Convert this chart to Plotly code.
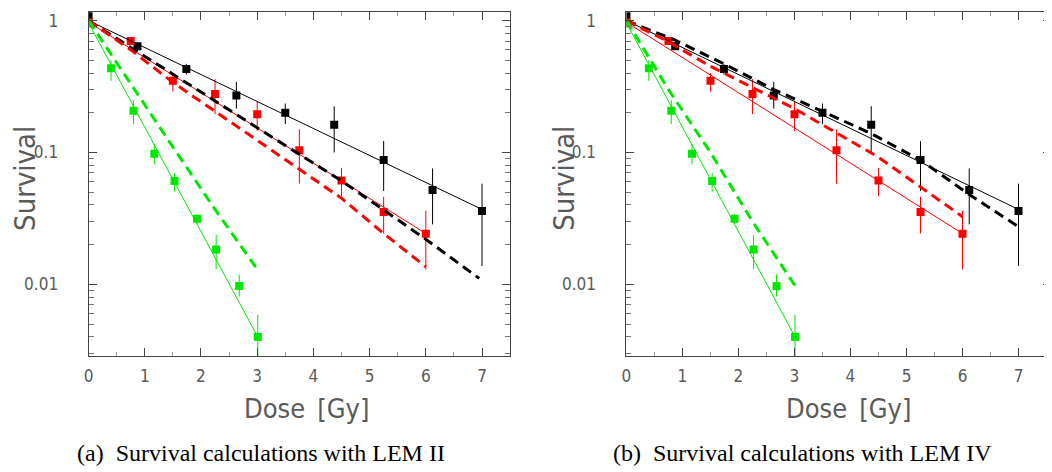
import plotly.graph_objects as go

# ---- measured cell survival (same data in both panels) ----
dose_black = [0, 0.87, 1.74, 2.63, 3.50, 4.37, 5.25, 6.12, 7.0]
surv_black = [1.08, 0.64, 0.43, 0.27, 0.20, 0.162, 0.0875, 0.052, 0.036]
black_hi = [1.08, 0.68, 0.47, 0.343, 0.235, 0.224, 0.122, 0.0757, 0.058]
black_lo = [1.08, 0.60, 0.39, 0.215, 0.164, 0.100, 0.051, 0.0285, 0.0138]

dose_red = [0, 0.75, 1.50, 2.25, 3.0, 3.75, 4.5, 5.25, 6.0]
surv_red = [0.97, 0.70, 0.35, 0.278, 0.195, 0.104, 0.0614, 0.0353, 0.0242]
red_hi = [0.97, 0.74, 0.40, 0.36, 0.245, 0.15, 0.0765, 0.0461, 0.0361]
red_lo = [0.97, 0.66, 0.29, 0.195, 0.146, 0.058, 0.0467, 0.0243, 0.013]

dose_green = [0, 0.40, 0.80, 1.17, 1.53, 1.93, 2.27, 2.68, 3.01]
surv_green = [0.95, 0.435, 0.207, 0.098, 0.0607, 0.0314, 0.0184, 0.0097, 0.004]
green_hi = [0.95, 0.50, 0.249, 0.116, 0.070, 0.034, 0.0237, 0.0119, 0.0059]
green_lo = [0.95, 0.349, 0.164, 0.081, 0.0504, 0.0287, 0.013, 0.0081, 0.0025]

# ---- fits to the data (solid lines) ----
fit_black_x = [0, 7.0]
fit_black_y = [1.0, 0.037]
fit_red_x = [0, 6.0]
fit_red_y = [0.97, 0.0243]
fit_green_x = [0, 3.01]
fit_green_y = [0.96, 0.004]

# ---- LEM II calculation (dashed, panel a) ----
lem2_black_x = [0, 1.5, 3.0, 4.5, 6.0, 6.95]
lem2_black_y = [1.0, 0.39, 0.154, 0.061, 0.022, 0.0111]
lem2_red_x = [0, 0.75, 1.5, 3.0, 4.5, 5.25, 6.0]
lem2_red_y = [1.0, 0.60, 0.34, 0.124, 0.045, 0.0243, 0.0136]
lem2_green_x = [0, 0.75, 1.5, 2.25, 3.03]
lem2_green_y = [1.0, 0.33, 0.11, 0.037, 0.0125]

# ---- LEM IV calculation (dashed, panel b) ----
lem4_black_x = [0, 0.87, 1.74, 2.63, 3.5, 4.37, 5.25, 6.12, 7.0]
lem4_black_y = [1.0, 0.71, 0.47, 0.30, 0.205, 0.139, 0.0875, 0.048, 0.0273]
lem4_red_x = [0, 0.75, 1.5, 3.0, 4.5, 6.0]
lem4_red_y = [1.0, 0.69, 0.45, 0.215, 0.092, 0.0326]
lem4_green_x = [0, 0.75, 1.5, 2.25, 3.03]
lem4_green_y = [1.0, 0.30, 0.10, 0.030, 0.0095]

y_tickvals = [0.01, 0.1, 1]
y_ticktext = ['0.01', '0.1', '1']
x_tickvals = [0, 1, 2, 3, 4, 5, 6, 7]

BLACK = '#000000'
RED = '#ff0000'
GREEN = '#00e800'
AXIS = '#444444'
TXT = '#5a5a5a'
THIN = 'DejaVu Sans ExtraLight, DejaVu Sans Condensed, DejaVu Sans, sans-serif'

# page body has an 8px margin, so the figure is drawn 8px smaller and
# every pixel position below is given in window pixels minus 8
W, H = 1044, 464
OFF = 8

fig = go.Figure()


def add_panel(xa, ya, dashed):
    # data points with error bars
    for x, y, hi, lo, col in [
        (dose_black, surv_black, black_hi, black_lo, BLACK),
        (dose_red, surv_red, red_hi, red_lo, RED),
        (dose_green, surv_green, green_hi, green_lo, GREEN),
    ]:
        fig.add_trace(go.Scatter(
            x=x, y=y, mode='markers', xaxis=xa, yaxis=ya,
            marker=dict(symbol='square', size=8, color=col),
            error_y=dict(
                type='data', symmetric=False,
                array=[h - v for h, v in zip(hi, y)],
                arrayminus=[v - l for v, l in zip(y, lo)],
                color=col, thickness=1, width=0,
            ),
        ))
    # fitted lines
    for x, y, col in [
        (fit_black_x, fit_black_y, BLACK),
        (fit_red_x, fit_red_y, RED),
        (fit_green_x, fit_green_y, GREEN),
    ]:
        fig.add_trace(go.Scatter(
            x=x, y=y, mode='lines', xaxis=xa, yaxis=ya,
            line=dict(color=col, width=1),
        ))
    # model calculations
    for x, y, col in dashed:
        fig.add_trace(go.Scatter(
            x=x, y=y, mode='lines', xaxis=xa, yaxis=ya,
            line=dict(color=col, width=3, dash='10px,6px'),
        ))


add_panel('x', 'y', [
    (lem2_black_x, lem2_black_y, BLACK),
    (lem2_red_x, lem2_red_y, RED),
    (lem2_green_x, lem2_green_y, GREEN),
])
add_panel('x2', 'y2', [
    (lem4_black_x, lem4_black_y, BLACK),
    (lem4_red_x, lem4_red_y, RED),
    (lem4_green_x, lem4_green_y, GREEN),
])

minor_y = [m * d for d in (0.001, 0.01, 0.1) for m in range(2, 10)]

xaxis_style = dict(
    range=[0, 7.5], tickmode='array', tickvals=x_tickvals,
    ticks='inside', ticklen=8, tickcolor=AXIS, tickwidth=1,
    showline=True, linecolor=AXIS, linewidth=1, mirror='allticks',
    showgrid=False, zeroline=False, ticklabelstandoff=5,
    tickfont=dict(family=THIN, size=17, color=TXT),
    minor=dict(dtick=0.5, tick0=0, ticks='inside', ticklen=4, tickcolor='#999999'),
)
yaxis_style = dict(
    type='log', range=[-2.543, 0.065], tickmode='array',
    tickvals=y_tickvals, ticktext=y_ticktext,
    ticks='inside', ticklen=8, tickcolor=AXIS, tickwidth=1,
    showline=True, linecolor=AXIS, linewidth=1, mirror='allticks',
    showgrid=False, zeroline=False, ticklabelstandoff=26,
    tickfont=dict(family=THIN, size=17, color=TXT),
    minor=dict(tickmode='array', tickvals=minor_y, ticks='inside',
               ticklen=5, tickcolor='#777777'),
)


def px(x):
    return (x - OFF) / W


fig.update_layout(
    width=W, height=H,
    margin=dict(l=0, r=0, t=12 - OFF, b=H - (356 - OFF)),
    plot_bgcolor='white', paper_bgcolor='white',
    showlegend=False,
    xaxis=dict(domain=[px(84), px(508)], anchor='y', **xaxis_style),
    yaxis=dict(domain=[0, 1], anchor='x', **yaxis_style),
    xaxis2=dict(domain=[px(625), 1.0], anchor='y2', **dict(xaxis_style, range=[0, 7.58])),
    yaxis2=dict(domain=[0, 1], anchor='x2', **yaxis_style),
)


def py(y):
    return (356 - y) / 344


ann = []
for xp in (303, 848):
    ann.append(dict(x=px(xp), y=py(408), xref='paper', yref='paper', text='Dose\u2002[Gy]',
                    showarrow=False, xanchor='center', yanchor='middle',
                    font=dict(family=THIN, size=27, color=TXT)))
for xp in (20, 562):
    ann.append(dict(x=px(xp), y=py(178), xref='paper', yref='paper', text='Survival',
                    textangle=-90, showarrow=False, xanchor='center', yanchor='middle',
                    font=dict(family=THIN, size=29, color=TXT)))
for xp, txt in ((257, '(a)\u2002Survival calculations with LEM II'),
                (802, '(b)\u2002Survival calculations with LEM IV')):
    ann.append(dict(x=px(xp), y=py(453), xref='paper', yref='paper', text=txt,
                    showarrow=False, xanchor='center', yanchor='middle',
                    font=dict(family='Liberation Serif, Times New Roman, serif',
                              size=24, color='black')))
fig.update_layout(annotations=ann)

fig.write_html("out.html")
